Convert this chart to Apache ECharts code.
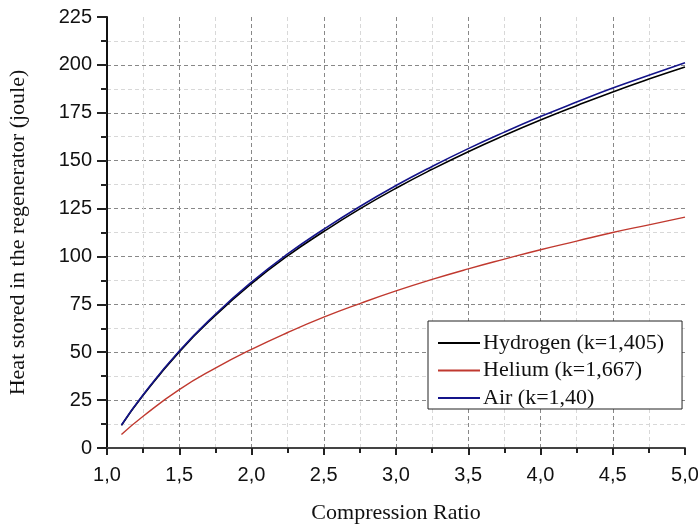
<!DOCTYPE html>
<html>
<head>
<meta charset="utf-8">
<script src="https://cdn.jsdelivr.net/npm/echarts@6/dist/echarts.min.js"></script>
<style>html,body{margin:0;padding:0;background:#fff;}#c{width:698px;height:525px;}</style>
</head>
<body>
<div id="c"></div>
<script>
const ratios = [1.1, 1.25, 1.5, 1.75, 2.0, 2.25, 2.5, 2.75, 3.0, 3.25, 3.5, 3.75, 4.0, 4.25, 4.5, 4.75, 5.0];
const hydrogen = [11.8, 27.5, 50.2, 69.2, 85.8, 100.3, 113.0, 124.8, 135.6, 145.5, 154.7, 163.2, 171.2, 178.7, 185.9, 192.6, 198.9];
const helium = [7.1, 16.6, 30.5, 41.7, 51.5, 60.3, 68.3, 75.4, 82.0, 88.0, 93.5, 98.6, 103.5, 108.0, 112.5, 116.5, 120.5];
const air = [12.0, 27.8, 50.6, 69.8, 86.6, 101.3, 114.2, 126.1, 137.0, 147.0, 156.3, 164.9, 173.0, 180.6, 187.9, 194.6, 201.1];
const seriesNames = ['Hydrogen (k=1,405)', 'Helium (k=1,667)', 'Air (k=1,40)'];
const xTitle = 'Compression Ratio';
const yTitle = 'Heat stored in the regenerator (joule)';

const pair = (ys) => ratios.map((x, i) => [x, ys[i]]);
const chart = echarts.init(document.getElementById('c'));
const serif = '"Liberation Serif", "DejaVu Serif", serif';
const sans = '"Liberation Sans", Arial, sans-serif';
chart.setOption({
  animation: false,
  backgroundColor: '#fff',
  grid: { left: 107, right: 13, top: 17, bottom: 77, outerBoundsMode: 'none', containLabel: false },
  legend: {
    orient: 'vertical',
    left: 428, top: 321,
    padding: [11, 18, 0, 9],
    itemGap: 5.5,
    itemWidth: 42, itemHeight: 14,
    backgroundColor: '#fff',
    borderColor: '#222', borderWidth: 1,
    itemStyle: { opacity: 0 },
    textStyle: { fontFamily: serif, fontSize: 22, color: '#111', padding: [0, 0, 0, -2] },
    data: seriesNames
  },
  xAxis: {
    type: 'value', min: 1.0, max: 5.0, interval: 0.5,
    name: xTitle, nameLocation: 'middle', nameGap: 54,
    nameTextStyle: { fontFamily: serif, fontSize: 22, color: '#111' },
    axisLine: { lineStyle: { color: '#444', width: 2 } },
    axisTick: { inside: false, length: 7, lineStyle: { color: '#222', width: 2 } },
    minorTick: { show: true, splitNumber: 2, length: 5, lineStyle: { color: '#222', width: 2 } },
    axisLabel: { fontFamily: sans, fontSize: 20, color: '#111', margin: 17,
      formatter: v => v.toFixed(1).replace('.', ',') },
    splitLine: { show: true, showMinLine: false, showMaxLine: false, lineStyle: { color: '#888', type: [4, 3], width: 1 } },
    minorSplitLine: { show: true, lineStyle: { color: '#d8d8d8', type: [4, 3], width: 1 } }
  },
  yAxis: {
    type: 'value', min: 0, max: 225, interval: 25,
    name: yTitle, nameLocation: 'middle', nameGap: 78,
    nameTextStyle: { fontFamily: serif, fontSize: 22, color: '#111' },
    axisLine: { show: true, lineStyle: { color: '#111', width: 2 } },
    axisTick: { show: true, inside: false, length: 10, lineStyle: { color: '#222', width: 2 } },
    minorTick: { show: true, splitNumber: 2, length: 6, lineStyle: { color: '#222', width: 2 } },
    axisLabel: { fontFamily: sans, fontSize: 20, color: '#111', margin: 15 },
    splitLine: { show: true, showMinLine: false, showMaxLine: false, lineStyle: { color: '#888', type: [4, 3], width: 1 } },
    minorSplitLine: { show: true, lineStyle: { color: '#d8d8d8', type: [4, 3], width: 1 } }
  },
  series: [
    { name: seriesNames[0], type: 'line', data: pair(hydrogen), smooth: true, symbol: 'none',
      lineStyle: { color: '#000', width: 1.6 }, itemStyle: { color: '#000' }, z: 3 },
    { name: seriesNames[1], type: 'line', data: pair(helium), smooth: true, symbol: 'none',
      lineStyle: { color: '#c0392f', width: 1.4 }, itemStyle: { color: '#c0392f' }, z: 2 },
    { name: seriesNames[2], type: 'line', data: pair(air), smooth: true, symbol: 'none',
      lineStyle: { color: '#14148a', width: 1.6 }, itemStyle: { color: '#14148a' }, z: 4 }
  ]
});
</script>
</body>
</html>
